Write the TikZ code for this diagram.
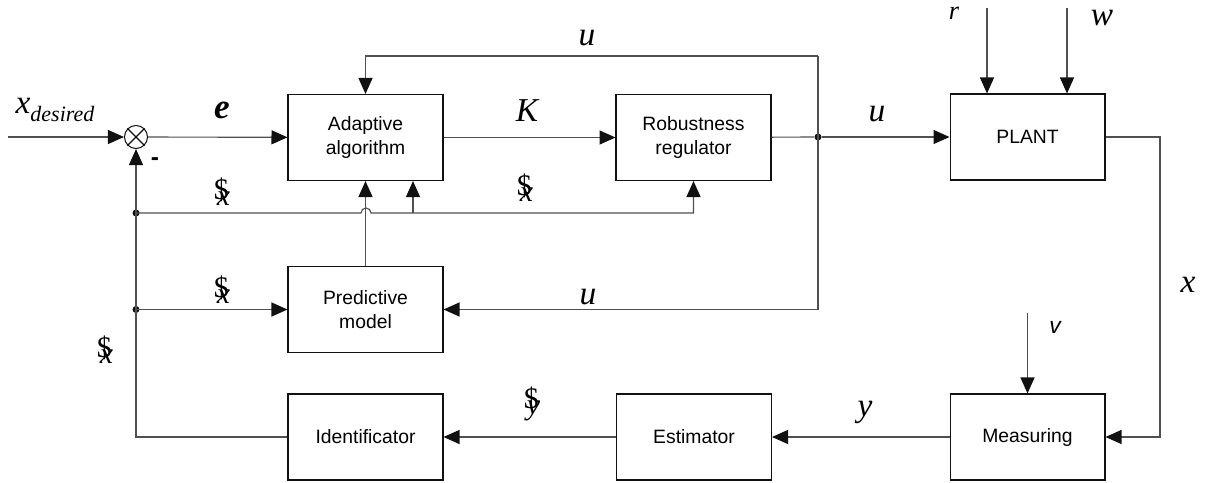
\documentclass[tikz,border=0pt]{standalone}
\usepackage{fontspec}
\setmainfont{Liberation Serif}
\setsansfont{Liberation Sans}
\usetikzlibrary{arrows.meta}
\definecolor{bdInk}{HTML}{111111}
\definecolor{bdLine}{HTML}{505050}
\newcommand{\hatsym}[1]{\makebox[0pt][l]{\$}\hspace{0.1em}\raisebox{-0.45ex}{\itshape #1}}
\tikzset{
  bd diagram/.style={x=0.02cm, y=-0.02cm, line join=miter},
  bd box/.style={draw=bdInk, fill=white, line width=0.6pt,
    minimum width=3.1cm, minimum height=1.72cm, inner sep=0pt,
    align=center, font=\sffamily\fontsize{11}{13.5}\selectfont},
  bd line/.style={draw=bdLine, line width=0.65pt},
  bd arrow/.style={bd line, -{Triangle[length=3.2mm,width=2.8mm,color=bdInk]}},
  bd label/.style={font=\fontsize{19}{21}\selectfont\itshape, inner sep=0pt},
  bd hat/.style={font=\fontsize{17}{19}\selectfont, inner sep=0pt},
  bd dot/.style={circle, fill=bdInk, inner sep=0pt, minimum size=1.4mm},
  bd sum/.style={circle, draw=bdInk, fill=white, line width=0.6pt,
    minimum size=0.46cm, inner sep=0pt}
}
\begin{document}
\begin{tikzpicture}[bd diagram]
\useasboundingbox (0,0) rectangle (1213,483);
% blocks
\node[bd sum] (sum) at (136,137) {};
\draw[bd line, draw=bdInk] (sum.north west) -- (sum.south east)
  (sum.north east) -- (sum.south west);
\node[bd box] (adapt) at (365.5,137.5) {Adaptive\\algorithm};
\node[bd box] (robust) at (693.5,137.5) {Robustness\\regulator};
\node[bd box] (plant) at (1027.5,137) {PLANT};
\node[bd box] (predict) at (365.5,309.5) {Predictive\\model};
\node[bd box] (ident) at (365.5,437) {Identificator};
\node[bd box] (est) at (694,437) {Estimator};
\node[bd box] (meas) at (1027.5,437) {Measuring};
% branch points and free ends
\coordinate (xin) at (8,137);
\coordinate (rin) at (987,8);
\coordinate (win) at (1067,8);
\coordinate (vin) at (1027.5,313);
\coordinate (xout) at (1160,137);
\coordinate (utop) at (818,56);
\coordinate (fbranch) at (413,213);
\node[bd dot] (uj) at (818,137) {};
\node[bd dot] (fa) at (136,213) {};
\node[bd dot] (fb) at (136,309.5) {};
% forward path
\draw[bd arrow] (xin) -- (sum);
\draw[bd arrow] (sum) -- (adapt);
\draw[bd arrow] (adapt) -- (robust);
\draw[bd line] (robust) -- (uj);
\draw[bd arrow] (uj) -- (plant);
\draw[bd arrow] (rin) -- (rin |- plant.north);
\draw[bd arrow] (win) -- (win |- plant.north);
\draw[bd arrow] (plant.east) -- (xout) |- (meas.east);
\draw[bd arrow] (vin) -- (meas.north);
\draw[bd arrow] (meas) -- (est);
\draw[bd arrow] (est) -- (ident);
\draw[bd arrow] (ident.west) -| (sum.south);
% u feedback
\draw[bd line] (uj.center) -- (utop);
\draw[bd arrow] (utop) -| (adapt.north);
\draw[bd arrow] (uj.center) |- (predict.east);
% estimate feedback
\draw[bd arrow] (fa.center) -- (361,213) arc[start angle=180, end angle=0, radius=0.1cm]
  -- (robust.south |- fa) -- (robust.south);
\draw[bd arrow] (fbranch) -- (fbranch |- adapt.south);
\draw[bd arrow] (predict.north) -- (adapt.south);
\draw[bd arrow] (fb.center) -- (predict.west);
% labels
\node[bd label] (lxd) at (55,110) {x\raisebox{-0.5ex}{\fontsize{12.5}{14}\selectfont desired}};
\node[bd label, font=\fontsize{20}{22}\selectfont\bfseries\itshape] (le) at (222,110) {e};
\node[bd label] (lk) at (527,111) {K};
\node[bd label] (lu1) at (587,38) {u};
\node[bd label] (lu2) at (877,114) {u};
\node[bd label] (lu3) at (588,297) {u};
\node[bd label, font=\fontsize{15}{17}\selectfont\itshape] (lr) at (954,13) {r};
\node[bd label] (lw) at (1102,18) {w};
\node[bd label] (lx) at (1188,285) {x};
\node[bd label, font=\sffamily\itshape\fontsize{13}{15}\selectfont] (lv) at (1055,327) {v};
\node[bd label] (ly) at (865,412) {y};
\node[bd label, font=\sffamily\bfseries\fontsize{14}{16}\selectfont] (lminus) at (155,162) {-};
\node[bd hat] (lhx1) at (222,192) {\hatsym{x}};
\node[bd hat] (lhx2) at (525,188) {\hatsym{x}};
\node[bd hat] (lhx3) at (222,290) {\hatsym{x}};
\node[bd hat] (lhx4) at (105,350) {\hatsym{x}};
\node[bd hat] (lhy) at (532,404) {\hatsym{y}};
\end{tikzpicture}
\end{document}
